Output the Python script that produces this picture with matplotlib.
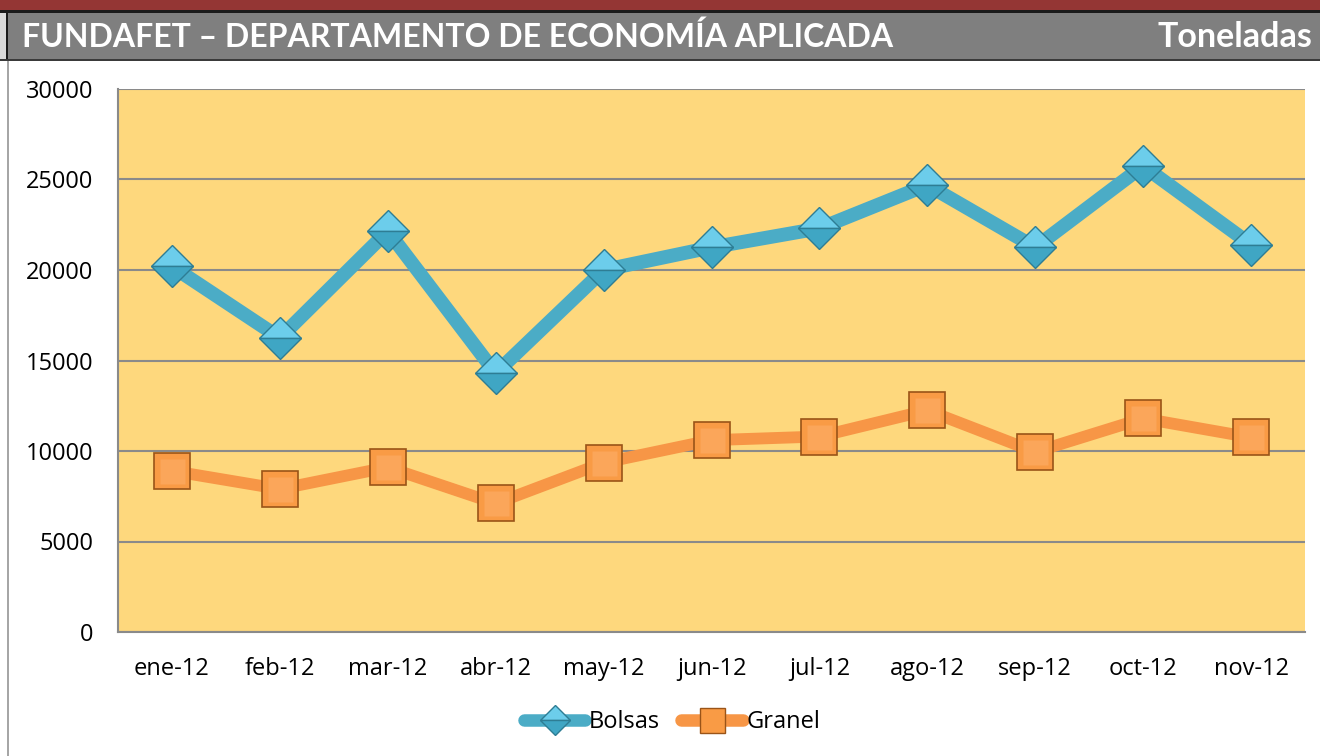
import matplotlib
matplotlib.use("Agg")
import matplotlib.pyplot as plt
from matplotlib.patches import Rectangle
from matplotlib.lines import Line2D

months = ["ene-12", "feb-12", "mar-12", "abr-12", "may-12", "jun-12",
          "jul-12", "ago-12", "sep-12", "oct-12", "nov-12"]
bolsas = [20200, 16250, 22150, 14300, 20000, 21250, 22300, 24700, 21250, 25750, 21400]
granel = [8900, 7900, 9100, 7100, 9350, 10600, 10800, 12250, 9950, 11800, 10750]
yticks = [0, 5000, 10000, 15000, 20000, 25000, 30000]
title = "FUNDAFET – DEPARTAMENTO DE ECONOMÍA APLICADA"
unit = "Toneladas"

W, H = 1320, 756
fig = plt.figure(figsize=(W / 100, H / 100), dpi=100)
fig.patch.set_facecolor("white")

def fy(px):
    return 1 - px / H

def fx(px):
    return px / W

# header bands
fig.patches.append(Rectangle((0, fy(10)), 1, 10 / H, transform=fig.transFigure,
                             facecolor="#943634", edgecolor="none", zorder=0))
fig.patches.append(Rectangle((0, fy(13)), 1, 3 / H, transform=fig.transFigure,
                             facecolor="#1a1a1a", edgecolor="none", zorder=0))
fig.patches.append(Rectangle((fx(7), fy(59)), 1, 46 / H, transform=fig.transFigure,
                             facecolor="#7F7F7F", edgecolor="none", zorder=0))
fig.patches.append(Rectangle((0, fy(61)), 1, 2 / H, transform=fig.transFigure,
                             facecolor="#3a3a3a", edgecolor="none", zorder=0))
fig.patches.append(Rectangle((0, fy(59)), fx(6), 46 / H, transform=fig.transFigure,
                             facecolor="#D9D9D9", edgecolor="none", zorder=0))
fig.patches.append(Rectangle((fx(6), fy(59)), fx(2), 46 / H, transform=fig.transFigure,
                             facecolor="#1a1a1a", edgecolor="none", zorder=0))
fig.patches.append(Rectangle((fx(7), 0), fx(2), fy(61), transform=fig.transFigure,
                             facecolor="#A6A6A6", edgecolor="none", zorder=0))

hfont = ["Lato", "DejaVu Sans"]
fig.text(fx(22), fy(37), title, color="white", fontsize=23, fontweight="bold",
         family=hfont, ha="left", va="center")
fig.text(fx(1312), fy(37), unit, color="white", fontsize=24.5, fontweight="bold",
         family=hfont, ha="right", va="center")

ax = fig.add_axes([fx(118), 1 - 632 / H, fx(1305) - fx(118), (632 - 89) / H])
ax.set_facecolor("#FED87D")
x = list(range(len(months)))

ax.plot(x, bolsas, color="#4BACC6", lw=10, solid_capstyle="round", zorder=3)
ax.plot(x, granel, color="#F79646", lw=8.5, solid_capstyle="round", zorder=3)
ax.plot(x, bolsas, ls="none", marker="D", markersize=21, fillstyle="top",
        markerfacecolor="#6CCDEB", markerfacecoloralt="#3FA6C4",
        markeredgecolor="#2E7D94", markeredgewidth=1, zorder=4)
ax.plot(x, granel, ls="none", marker="s", markersize=26,
        markerfacecolor="#F99B45", markeredgecolor="#9A5418",
        markeredgewidth=1.2, zorder=4)
ax.plot(x, granel, ls="none", marker="s", markersize=18,
        markerfacecolor="#FBA65A", markeredgecolor="none", zorder=5)

ax.set_xlim(-0.5, len(months) - 0.5)
ax.set_ylim(0, 30000)
ax.set_yticks(yticks)
ax.set_yticklabels([str(v) for v in yticks])
ax.set_xticks(x)
ax.set_xticklabels(months)
ax.yaxis.grid(True, color="#8A8A8A", lw=1.5, zorder=1)
ax.set_axisbelow(True)
for s in ["top", "right"]:
    ax.spines[s].set_visible(False)
for s in ["left", "bottom"]:
    ax.spines[s].set_color("#8A8A8A")
    ax.spines[s].set_linewidth(1.5)
tfont = ["Open Sans", "DejaVu Sans"]
ax.tick_params(axis="both", length=0, labelsize=17, labelcolor="black")
ax.tick_params(axis="y", pad=18)
ax.tick_params(axis="x", pad=18)
for lab in ax.get_xticklabels() + ax.get_yticklabels():
    lab.set_family(tfont)

h1 = Line2D([], [], color="#4BACC6", lw=9, marker="D", markersize=15, fillstyle="top",
            markerfacecolor="#6CCDEB", markerfacecoloralt="#3FA6C4",
            markeredgecolor="#2E7D94", solid_capstyle="round")
h2 = Line2D([], [], color="#F79646", lw=9, marker="s", markersize=18,
            markerfacecolor="#F99B45", markeredgecolor="#9A5418", solid_capstyle="round")
leg = fig.legend([h1, h2], ["Bolsas", "Granel"], loc="center",
                 bbox_to_anchor=(fx(672), fy(722)), ncol=2, frameon=False,
                 prop={"family": tfont, "size": 17}, handlelength=2.6,
                 handletextpad=0.15, columnspacing=0.9)

fig.savefig("out.png", dpi=100)
